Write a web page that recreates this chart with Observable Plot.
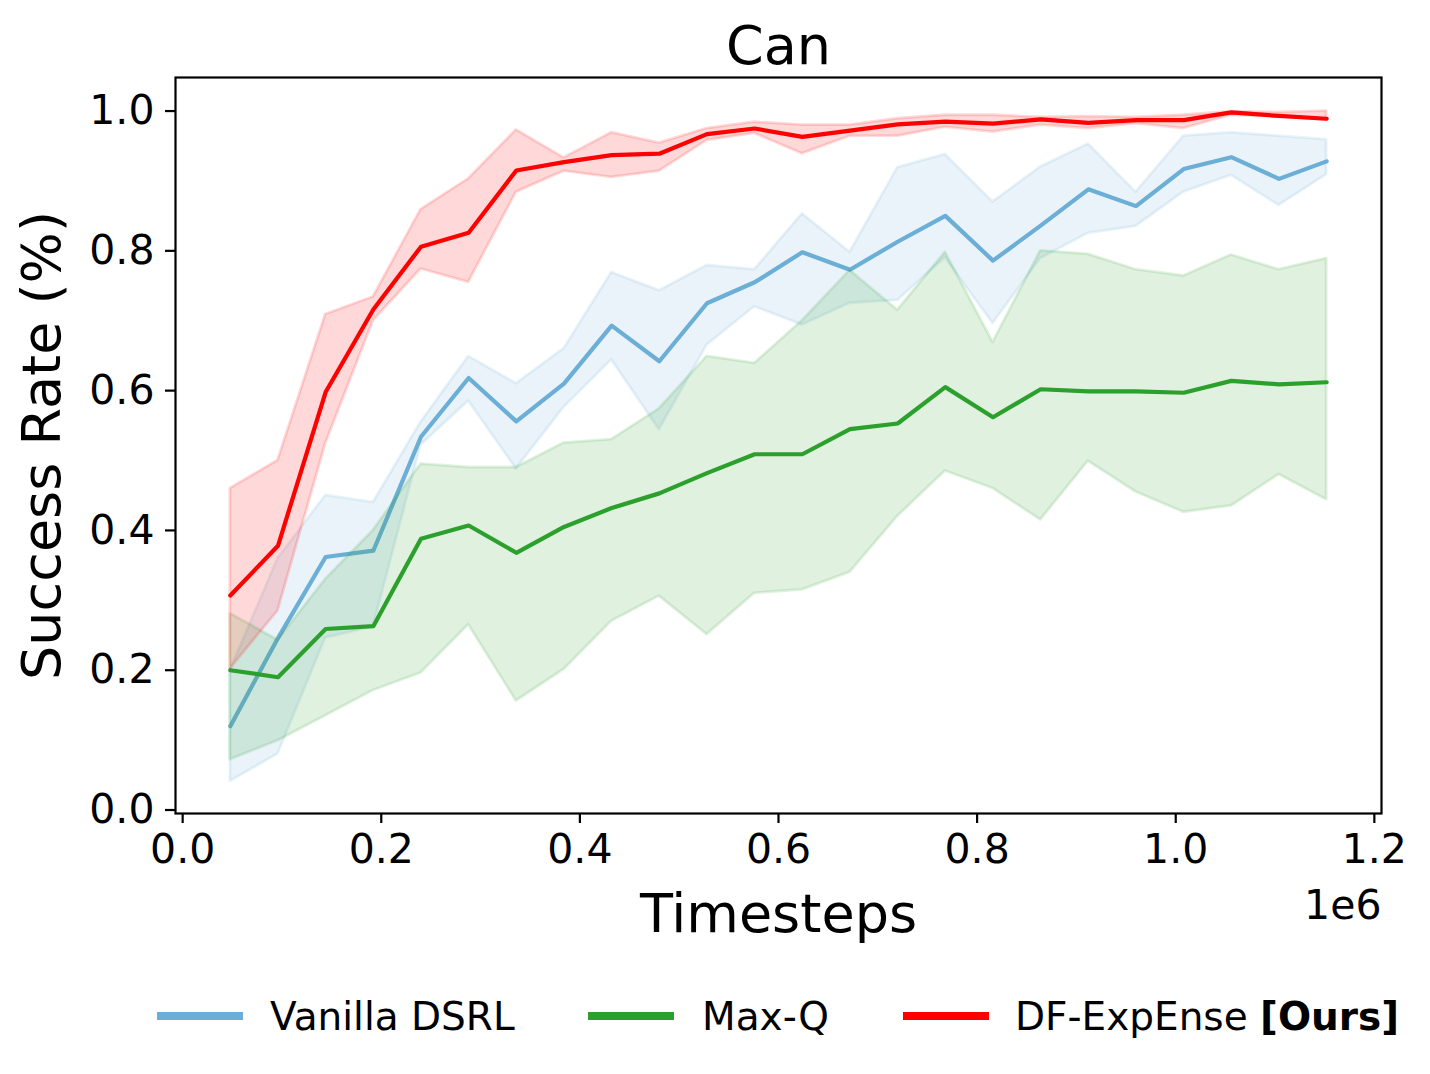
<!DOCTYPE html>
<html><head><meta charset="utf-8">
<script src="https://cdn.jsdelivr.net/npm/d3@7"></script>
<script src="https://cdn.jsdelivr.net/npm/@observablehq/plot@0.6"></script>
<style>
html,body{margin:0;padding:0;background:#fff;}
body{width:1430px;height:1074px;overflow:hidden;font-family:"DejaVu Sans",sans-serif;}
#chart svg{display:block;}
#legend{position:relative;width:1430px;height:114px;}
.swatch{position:absolute;top:52px;height:8px;width:86px;}
.label{position:absolute;top:37px;font-size:39px;line-height:1;white-space:nowrap;color:#000;font-family:"DejaVu Sans",sans-serif;}
</style></head><body>
<div id="chart"></div>
<div id="legend"></div>
<script>
const timesteps = [48000, 96000, 144000, 192000, 240000, 288000, 336000, 384000, 432000, 480000, 528000, 576000,
                   624000, 672000, 720000, 768000, 816000, 864000, 912000, 960000, 1008000, 1056000, 1104000, 1152000];

const vanillaMean = [0.120, 0.246, 0.362, 0.371, 0.534, 0.618, 0.556, 0.610, 0.693, 0.642, 0.725, 0.755,
                     0.798, 0.773, 0.813, 0.850, 0.786, 0.836, 0.888, 0.864, 0.917, 0.934, 0.903, 0.928];
const vanillaHigh = [0.200, 0.360, 0.450, 0.440, 0.555, 0.649, 0.610, 0.660, 0.769, 0.743, 0.779, 0.773,
                     0.853, 0.798, 0.919, 0.938, 0.870, 0.920, 0.953, 0.884, 0.964, 0.969, 0.964, 0.959];
const vanillaLow  = [0.041, 0.080, 0.246, 0.262, 0.522, 0.585, 0.488, 0.576, 0.644, 0.544, 0.665, 0.720,
                     0.694, 0.725, 0.729, 0.790, 0.696, 0.789, 0.825, 0.835, 0.884, 0.908, 0.865, 0.909];

const maxqMean = [0.200, 0.190, 0.259, 0.263, 0.388, 0.407, 0.368, 0.405, 0.432, 0.453, 0.482, 0.509,
                  0.509, 0.545, 0.553, 0.605, 0.562, 0.602, 0.599, 0.599, 0.597, 0.614, 0.609, 0.612];
const maxqHigh = [0.281, 0.243, 0.330, 0.400, 0.495, 0.490, 0.490, 0.525, 0.530, 0.574, 0.649, 0.639,
                  0.700, 0.772, 0.715, 0.798, 0.669, 0.800, 0.795, 0.773, 0.764, 0.794, 0.773, 0.789];
const maxqLow  = [0.072, 0.099, 0.135, 0.171, 0.196, 0.265, 0.156, 0.201, 0.270, 0.306, 0.251, 0.310,
                  0.315, 0.340, 0.420, 0.485, 0.460, 0.415, 0.499, 0.455, 0.426, 0.435, 0.480, 0.444];

const oursMean = [0.307, 0.378, 0.598, 0.716, 0.806, 0.826, 0.915, 0.927, 0.937, 0.939, 0.967, 0.975,
                  0.963, 0.972, 0.981, 0.985, 0.982, 0.988, 0.983, 0.987, 0.987, 0.998, 0.993, 0.989];
const oursHigh = [0.460, 0.500, 0.709, 0.734, 0.859, 0.903, 0.973, 0.933, 0.969, 0.954, 0.975, 0.984,
                  0.980, 0.980, 0.989, 0.994, 0.994, 0.991, 0.992, 0.991, 0.994, 0.999, 0.998, 1.000];
const oursLow  = [0.202, 0.285, 0.524, 0.700, 0.774, 0.755, 0.884, 0.914, 0.905, 0.914, 0.958, 0.968,
                  0.939, 0.964, 0.964, 0.977, 0.970, 0.980, 0.975, 0.982, 0.975, 0.994, 0.992, 0.987];

const seriesNames = ["Vanilla DSRL", "Max-Q", "DF-ExpEnse"];
const seriesColors = ["#6baed6", "#2ca02c", "#ff0000"];
const xTicks = [0, 200000, 400000, 600000, 800000, 1000000, 1200000];
const yTicks = [0, 0.2, 0.4, 0.6, 0.8, 1.0];

const series = [
  {name: seriesNames[0], color: seriesColors[0], mean: vanillaMean, lo: vanillaLow, hi: vanillaHigh},
  {name: seriesNames[1], color: seriesColors[1], mean: maxqMean, lo: maxqLow, hi: maxqHigh},
  {name: seriesNames[2], color: seriesColors[2], mean: oursMean, lo: oursLow, hi: oursHigh}
];

const marks = [];
for (const s of series) {
  const rows = timesteps.map((t, i) => ({t, m: s.mean[i], lo: s.lo[i], hi: s.hi[i]}));
  marks.push(Plot.lineY(rows, {x: "t", y: "m", stroke: s.color, strokeWidth: 4.2}));
  marks.push(Plot.areaY(rows, {x: "t", y1: "lo", y2: "hi", fill: s.color, fillOpacity: 0.15,
                               stroke: s.color, strokeOpacity: 0.15, strokeWidth: 2.8}));
}

const chart = Plot.plot({
  width: 1430, height: 960,
  marginLeft: 175, marginRight: 49, marginTop: 77, marginBottom: 147,
  style: {fontFamily: "DejaVu Sans", fontSize: "41px", color: "#000", background: "#fff", overflow: "visible"},
  x: {domain: [-7200, 1207200]},
  y: {domain: [-0.005, 1.048]},
  marks: [
    ...marks,
    Plot.axisX({ticks: xTicks, tickFormat: d => (d / 1e6).toFixed(1), tickSize: 10, tickPadding: 10,
                strokeWidth: 2.2, fontSize: 41, label: null}),
    Plot.axisY({ticks: yTicks, tickFormat: d3.format(".1f"), tickSize: 10, tickPadding: 11,
                strokeWidth: 2.2, fontSize: 41, label: null}),
    Plot.frame({stroke: "#000", strokeWidth: 2.2}),
    Plot.text(["Can"], {text: d => d, frameAnchor: "top", lineAnchor: "middle", dy: -31, fontSize: 54}),
    Plot.text(["Success Rate (%)"], {text: d => d, frameAnchor: "left", textAnchor: "middle", rotate: -90,
                                     lineAnchor: "middle", dx: -133, fontSize: 54}),
    Plot.text(["Timesteps"], {text: d => d, frameAnchor: "bottom", lineAnchor: "middle", dy: 101, fontSize: 54}),
    Plot.text(["1e6"], {text: d => d, frameAnchor: "bottom-right", textAnchor: "end", lineAnchor: "middle", dy: 92, fontSize: 41})
  ]
});
document.getElementById("chart").appendChild(chart);

// Legend
const legend = document.getElementById("legend");
const swatchLeft = [157, 588, 903];
const labelLeft = [270, 702, 1015];
series.forEach((s, i) => {
  const sw = document.createElement("div");
  sw.className = "swatch";
  sw.style.left = swatchLeft[i] + "px";
  sw.style.background = s.color;
  legend.appendChild(sw);
  const lb = document.createElement("div");
  lb.className = "label";
  lb.style.left = labelLeft[i] + "px";
  lb.textContent = s.name;
  if (i === 2) {
    lb.textContent = s.name + " ";
    const b = document.createElement("b");
    b.textContent = "[Ours]";
    lb.appendChild(b);
  }
  legend.appendChild(lb);
});
</script>
</body></html>
